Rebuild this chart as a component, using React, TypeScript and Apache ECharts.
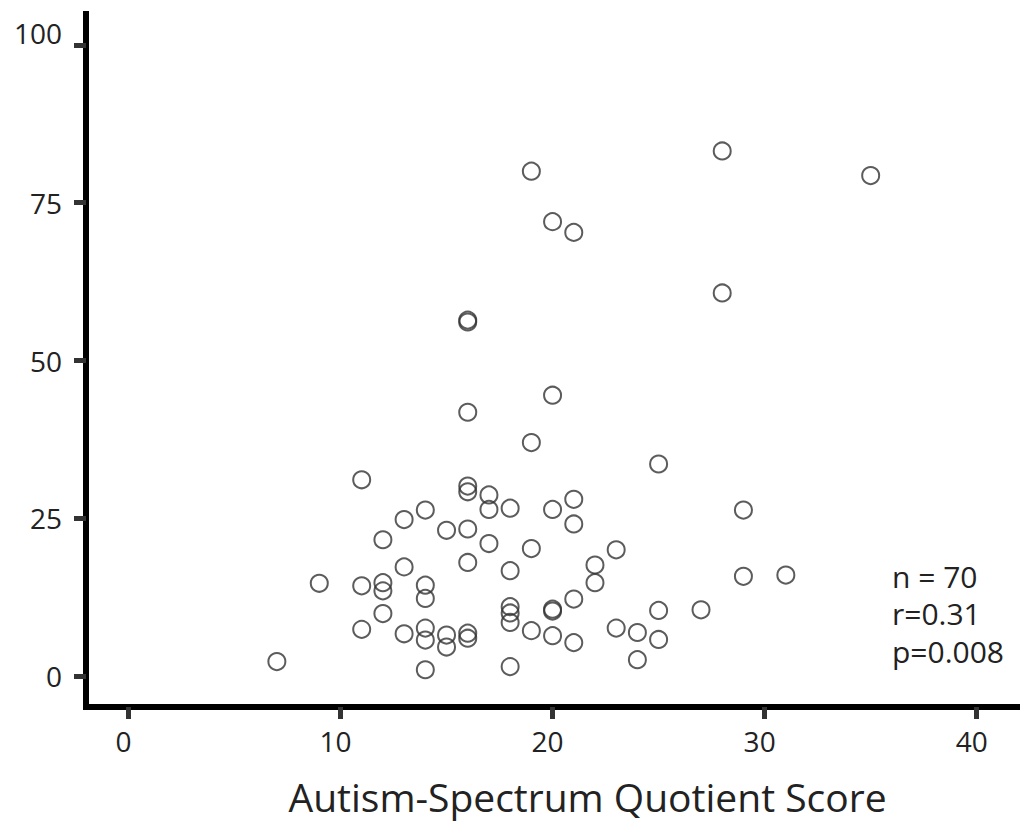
import React, { useEffect, useRef } from 'react';
import * as echarts from 'echarts';

const aqScore = [
  7, 9, 11, 11, 11, 12, 12, 12, 12, 13, 13, 13, 14, 14, 14, 14, 14, 14, 15, 15, 15,
  16, 16, 16, 16, 16, 16, 16, 16, 16, 17, 17, 17, 18, 18, 18, 18, 18, 18,
  19, 19, 19, 19, 20, 20, 20, 20, 20, 20, 21, 21, 21, 21, 21, 22, 22, 23, 23,
  24, 24, 25, 25, 25, 27, 28, 28, 29, 29, 31, 35,
];
const yScore = [
  2.3, 14.7, 31.1, 14.3, 7.4, 21.6, 14.8, 13.5, 9.9, 24.8, 17.3, 6.7,
  26.3, 14.4, 12.3, 7.6, 5.7, 1.0, 23.1, 6.5, 4.6,
  56.4, 56.1, 41.8, 30.1, 29.2, 23.3, 18.0, 6.8, 6.0, 28.7, 26.4, 21.0,
  26.6, 16.7, 11.0, 10.0, 8.5, 1.5, 80.0, 37.0, 20.2, 7.2,
  72.0, 44.5, 26.4, 10.6, 10.3, 6.4, 70.3, 28.0, 24.1, 12.2, 5.3,
  17.6, 14.8, 20.0, 7.6, 6.9, 2.6, 33.6, 10.4, 5.8, 10.5, 83.2, 60.7,
  26.3, 15.8, 16.0, 79.3,
];
const xTicks = [0, 10, 20, 30, 40];
const yTicks = [0, 25, 50, 75, 100];
const statLines = ['n = 70', 'r=0.31', 'p=0.008'];
const xTitle = 'Autism-Spectrum Quotient Score';

const FONT = '"Open Sans", "Noto Sans", sans-serif';

export default function App() {
  const ref = useRef<HTMLDivElement>(null);
  useEffect(() => {
    const chart = echarts.init(ref.current!, null, { renderer: 'svg' });
    const data = aqScore.map((x, i) => [x, yScore[i]]);
    chart.setOption({
      animation: false,
      backgroundColor: '#ffffff',
      grid: { left: 86, right: 8, top: 14, bottom: 120, containLabel: false },
      xAxis: {
        type: 'value',
        min: -2,
        max: 41.9,
        splitLine: { show: false },
        axisLine: { show: true, onZero: false, lineStyle: { color: '#000', width: 6, cap: 'square' } },
        axisTick: { show: true, customValues: xTicks, length: 12, lineStyle: { color: '#333', width: 5 } },
        axisLabel: {
          customValues: xTicks,
          margin: 20,
          fontSize: 28,
          color: '#222',
          fontFamily: FONT,
          padding: [0, 10, 0, 0],
        },
        name: xTitle,
        nameLocation: 'middle',
        nameGap: 70,
        nameTextStyle: { fontSize: 39, color: '#222', fontFamily: FONT, padding: [0, 0, 0, 72] },
      },
      yAxis: {
        type: 'value',
        min: -4.9,
        max: 104.9,
        splitLine: { show: false },
        axisLine: { show: true, onZero: false, lineStyle: { color: '#000', width: 6, cap: 'square' } },
        axisTick: { show: true, customValues: yTicks, length: 12, lineStyle: { color: '#333', width: 5 } },
        axisLabel: {
          customValues: yTicks,
          margin: 24,
          fontSize: 28,
          color: '#222',
          fontFamily: FONT,
          formatter: (v: number) => (v === 100 ? '{hi|100}' : String(v)),
          rich: {
            hi: { fontSize: 28, color: '#222', fontFamily: FONT, padding: [0, 0, 24, 0] },
          },
        },
      },
      graphic: statLines.map((t, i) => ({
        type: 'text',
        left: 892,
        top: 561 + i * 37.5,
        style: { text: t, font: `30px ${FONT}`, fill: '#222' },
      })),
      series: [
        {
          type: 'scatter',
          data,
          symbol: 'circle',
          symbolSize: 17,
          itemStyle: { color: 'rgba(0,0,0,0)', borderColor: '#333', borderWidth: 2 },
        },
      ],
    });
    return () => chart.dispose();
  }, []);
  return (
    <div
      ref={ref}
      style={{ position: 'fixed', left: 0, top: 0, width: 1025, height: 827, background: '#fff' }}
    />
  );
}
